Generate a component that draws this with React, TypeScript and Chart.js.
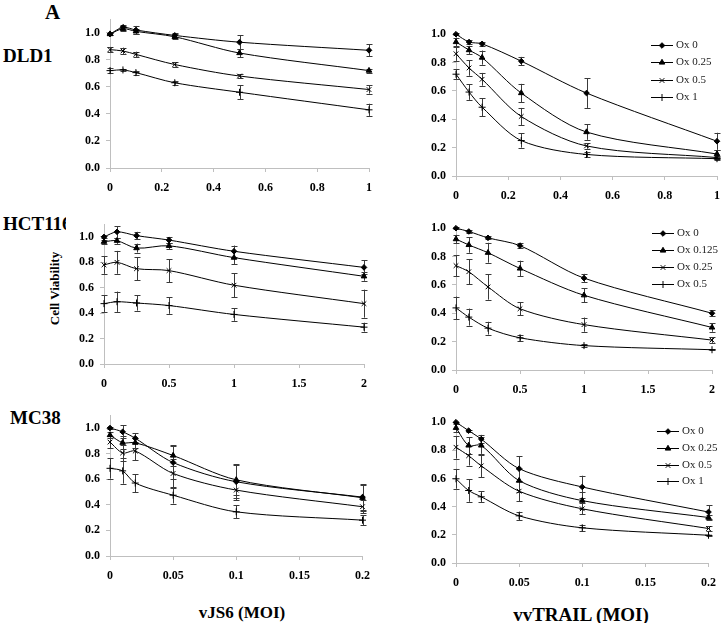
import React, { useEffect, useRef } from 'react';
import { Chart, registerables } from 'chart.js';
import { drawPoint } from 'chart.js/helpers';

Chart.register(...registerables);

// ---------- Data ----------
const labelsA = ['Ox 0', 'Ox 0.25', 'Ox 0.5', 'Ox 1'];
const labelsB = ['Ox 0', 'Ox 0.125', 'Ox 0.25', 'Ox 0.5'];
const yTickValues = [0, 0.2, 0.4, 0.6, 0.8, 1.0];
const xTicks1 = [0, 0.2, 0.4, 0.6, 0.8, 1];
const xTicks2 = [0, 0.5, 1, 1.5, 2];
const xTicks3 = [0, 0.05, 0.1, 0.15, 0.2];

// DLD1 – vJS6
const dldJsX = [0, 0.05, 0.1, 0.25, 0.5, 1];
const dldJsOx0 = [0.99, 1.04, 1.02, 0.98, 0.93, 0.87];
const dldJsOx0Err = [0.01, 0.02, 0.03, 0.02, 0.05, 0.045];
const dldJsOx025 = [0.99, 1.03, 1.01, 0.97, 0.85, 0.72];
const dldJsOx025Err = [0.01, 0.02, 0.02, 0.02, 0.03, 0.015];
const dldJsOx05 = [0.875, 0.865, 0.84, 0.765, 0.68, 0.58];
const dldJsOx05Err = [0.02, 0.025, 0.02, 0.015, 0.015, 0.03];
const dldJsOx1 = [0.72, 0.725, 0.705, 0.63, 0.56, 0.43];
const dldJsOx1Err = [0.02, 0.01, 0.015, 0.015, 0.05, 0.045];

// DLD1 – vvTRAIL
const dldTrX = [0, 0.05, 0.1, 0.25, 0.5, 1];
const dldTrOx0 = [1.0, 0.945, 0.932, 0.81, 0.585, 0.245];
const dldTrOx0Err = [0.005, 0.015, 0.015, 0.03, 0.105, 0.06];
const dldTrOx025 = [0.945, 0.888, 0.835, 0.585, 0.31, 0.155];
const dldTrOx025Err = [0.03, 0.03, 0.05, 0.065, 0.055, 0.03];
const dldTrOx05 = [0.862, 0.762, 0.682, 0.42, 0.212, 0.13];
const dldTrOx05Err = [0.05, 0.055, 0.045, 0.06, 0.02, 0.01];
const dldTrOx1 = [0.718, 0.592, 0.485, 0.25, 0.152, 0.122];
const dldTrOx1Err = [0.035, 0.055, 0.065, 0.05, 0.02, 0.01];

// HCT116 – vJS6
const hctJsX = [0, 0.1, 0.25, 0.5, 1, 2];
const hctJsOx0 = [1.0, 1.04, 1.01, 0.975, 0.887, 0.76];
const hctJsOx0Err = [0.01, 0.045, 0.03, 0.025, 0.045, 0.055];
const hctJsOx0125 = [0.962, 0.97, 0.912, 0.93, 0.837, 0.69];
const hctJsOx0125Err = [0.015, 0.025, 0.035, 0.025, 0.05, 0.035];
const hctJsOx025 = [0.78, 0.8, 0.75, 0.735, 0.62, 0.475];
const hctJsOx025Err = [0.07, 0.09, 0.09, 0.09, 0.095, 0.11];
const hctJsOx05 = [0.475, 0.49, 0.48, 0.46, 0.39, 0.29];
const hctJsOx05Err = [0.065, 0.08, 0.06, 0.065, 0.05, 0.035];

// HCT116 – vvTRAIL
const hctTrX = [0, 0.1, 0.25, 0.5, 1, 2];
const hctTrOx0 = [1.0, 0.977, 0.932, 0.877, 0.648, 0.4];
const hctTrOx0Err = [0.005, 0.01, 0.01, 0.02, 0.03, 0.02];
const hctTrOx0125 = [0.923, 0.882, 0.827, 0.716, 0.527, 0.3];
const hctTrOx0125Err = [0.03, 0.055, 0.07, 0.055, 0.05, 0.03];
const hctTrOx025 = [0.736, 0.693, 0.586, 0.432, 0.32, 0.211];
const hctTrOx025Err = [0.075, 0.09, 0.09, 0.045, 0.05, 0.02];
const hctTrOx05 = [0.438, 0.373, 0.295, 0.227, 0.172, 0.143];
const hctTrOx05Err = [0.08, 0.06, 0.045, 0.02, 0.01, 0.005];

// MC38 – vJS6
const mcJsX = [0, 0.01, 0.02, 0.05, 0.1, 0.2];
const mcJsOx0 = [1.0, 0.97, 0.92, 0.73, 0.58, 0.46];
const mcJsOx0Err = [0.005, 0.05, 0.04, 0.13, 0.13, 0.1];
const mcJsOx025 = [0.945, 0.885, 0.885, 0.785, 0.595, 0.455];
const mcJsOx025Err = [0.02, 0.05, 0.04, 0.08, 0.12, 0.1];
const mcJsOx05 = [0.89, 0.805, 0.82, 0.645, 0.515, 0.385];
const mcJsOx05Err = [0.05, 0.06, 0.07, 0.11, 0.08, 0.05];
const mcJsOx1 = [0.685, 0.665, 0.57, 0.475, 0.345, 0.28];
const mcJsOx1Err = [0.08, 0.1, 0.07, 0.065, 0.05, 0.04];

// MC38 – vvTRAIL
const mcTrX = [0, 0.01, 0.02, 0.05, 0.1, 0.2];
const mcTrOx0 = [1.0, 0.94, 0.88, 0.67, 0.54, 0.362];
const mcTrOx0Err = [0.003, 0.008, 0.03, 0.09, 0.08, 0.05];
const mcTrOx025 = [0.96, 0.835, 0.835, 0.585, 0.443, 0.323];
const mcTrOx025Err = [0.03, 0.06, 0.06, 0.08, 0.06, 0.02];
const mcTrOx05 = [0.822, 0.762, 0.69, 0.51, 0.385, 0.245];
const mcTrOx05Err = [0.08, 0.07, 0.08, 0.07, 0.04, 0.015];
const mcTrOx1 = [0.598, 0.515, 0.47, 0.335, 0.25, 0.197];
const mcTrOx1Err = [0.07, 0.08, 0.04, 0.03, 0.02, 0.005];

// ---------- Styles ----------
const SERIF = '"Liberation Serif", "Times New Roman", serif';
const pointStyles = ['rectRot', 'triangle', 'crossRot', 'cross'];
const pointRadii = [2.8, 3.2, 3.3, 3.5];
const AXIS_GRAY = '#bfbfbf';
const YW = 38; // y-axis box width
const XH = 34; // x-axis box height
const PT = 8;
const PR = 8;

type PanelCfg = {
  id: string;
  x: number[];
  ys: number[][];
  errs: number[][];
  labels: string[];
  yMax: number;
  xMax: number;
  xTicks: number[];
  L: number; R: number; T: number; B: number;
  legend?: { x: number; y: number; gap: number };
};

const panels: PanelCfg[] = [
  {
    id: 'dldJs', x: dldJsX,
    ys: [dldJsOx0, dldJsOx025, dldJsOx05, dldJsOx1],
    errs: [dldJsOx0Err, dldJsOx025Err, dldJsOx05Err, dldJsOx1Err],
    labels: labelsA, yMax: 1.1, xMax: 1, xTicks: xTicks1,
    L: 110, R: 373, T: 14, B: 168,
  },
  {
    id: 'dldTr', x: dldTrX,
    ys: [dldTrOx0, dldTrOx025, dldTrOx05, dldTrOx1],
    errs: [dldTrOx0Err, dldTrOx025Err, dldTrOx05Err, dldTrOx1Err],
    labels: labelsA, yMax: 1.0, xMax: 1, xTicks: xTicks1,
    L: 456, R: 721, T: 29, B: 176,
    legend: { x: 651, y: 45, gap: 17.3 },
  },
  {
    id: 'hctJs', x: hctJsX,
    ys: [hctJsOx0, hctJsOx0125, hctJsOx025, hctJsOx05],
    errs: [hctJsOx0Err, hctJsOx0125Err, hctJsOx025Err, hctJsOx05Err],
    labels: labelsB, yMax: 1.1, xMax: 2, xTicks: xTicks2,
    L: 104, R: 368, T: 219, B: 364,
  },
  {
    id: 'hctTr', x: hctTrX,
    ys: [hctTrOx0, hctTrOx0125, hctTrOx025, hctTrOx05],
    errs: [hctTrOx0Err, hctTrOx0125Err, hctTrOx025Err, hctTrOx05Err],
    labels: labelsB, yMax: 1.0, xMax: 2, xTicks: xTicks2,
    L: 456, R: 716, T: 223, B: 370,
    legend: { x: 652, y: 233, gap: 17 },
  },
  {
    id: 'mcJs', x: mcJsX,
    ys: [mcJsOx0, mcJsOx025, mcJsOx05, mcJsOx1],
    errs: [mcJsOx0Err, mcJsOx025Err, mcJsOx05Err, mcJsOx1Err],
    labels: labelsA, yMax: 1.1, xMax: 0.2, xTicks: xTicks3,
    L: 110, R: 371, T: 410, B: 556,
  },
  {
    id: 'mcTr', x: mcTrX,
    ys: [mcTrOx0, mcTrOx025, mcTrOx05, mcTrOx1],
    errs: [mcTrOx0Err, mcTrOx025Err, mcTrOx05Err, mcTrOx1Err],
    labels: labelsA, yMax: 1.0, xMax: 0.2, xTicks: xTicks3,
    L: 456, R: 717, T: 417, B: 563,
    legend: { x: 657, y: 431, gap: 16.8 },
  },
];

// ---------- Plugins ----------
const errorBarPlugin = {
  id: 'errorBars',
  beforeDatasetsDraw(chart: any) {
    const { ctx, scales } = chart;
    const xs = scales.x;
    const ysc = scales.y;
    ctx.save();
    ctx.strokeStyle = '#3a3a3a';
    ctx.lineWidth = 1;
    chart.data.datasets.forEach((ds: any) => {
      ds.data.forEach((pt: any, i: number) => {
        const e = ds.errors ? ds.errors[i] : 0;
        if (!e) return;
        const px = Math.round(xs.getPixelForValue(pt.x)) + 0.5;
        const y1 = ysc.getPixelForValue(pt.y - e);
        const y2 = ysc.getPixelForValue(pt.y + e);
        ctx.beginPath();
        ctx.moveTo(px, y1);
        ctx.lineTo(px, y2);
        ctx.moveTo(px - 3, Math.round(y1) + 0.5);
        ctx.lineTo(px + 3, Math.round(y1) + 0.5);
        ctx.moveTo(px - 3, Math.round(y2) + 0.5);
        ctx.lineTo(px + 3, Math.round(y2) + 0.5);
        ctx.stroke();
      });
    });
    ctx.restore();
  },
};

const legendPlugin = {
  id: 'oxLegend',
  afterDraw(chart: any, _args: any, opts: any) {
    if (!opts || !opts.show) return;
    const ctx = chart.ctx;
    ctx.save();
    chart.data.datasets.forEach((ds: any, i: number) => {
      const yy = Math.round(opts.y + i * opts.gap) + 0.5;
      const x0 = opts.x;
      ctx.strokeStyle = '#000';
      ctx.fillStyle = '#000';
      ctx.lineWidth = 1;
      ctx.beginPath();
      ctx.moveTo(x0, yy);
      ctx.lineTo(x0 + 22, yy);
      ctx.stroke();
      drawPoint(ctx, { pointStyle: ds.pointStyle, radius: ds.pointRadius, borderWidth: 1, rotation: 0 } as any, x0 + 11, yy);
      ctx.fillStyle = '#222';
      ctx.font = `11px ${SERIF}`;
      ctx.textBaseline = 'middle';
      ctx.textAlign = 'left';
      ctx.fillText(ds.label, x0 + 25, yy);
    });
    ctx.restore();
  },
};

// ---------- Components ----------
function Panel({ cfg }: { cfg: PanelCfg }) {
  const ref = useRef<HTMLCanvasElement>(null);
  const left = cfg.L - YW;
  const top = Math.round(cfg.T - PT);
  const width = cfg.R - cfg.L + YW + PR;
  const height = Math.round(cfg.B - top + XH);

  useEffect(() => {
    const datasets = cfg.ys.map((vals, si) => ({
      label: cfg.labels[si],
      data: cfg.x.map((xv, i) => ({ x: xv, y: vals[i] })),
      errors: cfg.errs[si],
      borderColor: '#000',
      backgroundColor: '#000',
      borderWidth: 1,
      pointStyle: pointStyles[si],
      pointRadius: pointRadii[si],
      pointBorderWidth: 1,
      pointBackgroundColor: '#000',
      pointBorderColor: '#000',
      tension: 0.3,
      clip: false as any,
      fill: false,
    }));
    const chart = new Chart(ref.current as HTMLCanvasElement, {
      type: 'line',
      data: { datasets } as any,
      options: {
        animation: false,
        responsive: false,
        maintainAspectRatio: false,
        layout: { padding: { left: 0, top: PT, right: PR, bottom: 0 } },
        plugins: {
          legend: { display: false },
          tooltip: { enabled: false },
          oxLegend: cfg.legend
            ? { show: true, x: cfg.legend.x - left, y: cfg.legend.y - top, gap: cfg.legend.gap }
            : { show: false },
        } as any,
        scales: {
          x: {
            type: 'linear',
            min: 0,
            max: cfg.xMax,
            afterFit: (s: any) => { s.height = XH; },
            afterBuildTicks: (s: any) => { s.ticks = cfg.xTicks.map((v) => ({ value: v })); },
            grid: { display: true, drawOnChartArea: false, drawTicks: true, tickLength: 4, color: AXIS_GRAY },
            border: { display: true, color: AXIS_GRAY },
            ticks: {
              autoSkip: false,
              maxRotation: 0,
              padding: 9,
              color: '#000',
              font: { family: SERIF, size: 12, weight: 'bold' },
              callback: (v: any) => String(+Number(v).toFixed(3)),
            },
          },
          y: {
            type: 'linear',
            min: 0,
            max: cfg.yMax,
            afterFit: (s: any) => { s.width = YW; },
            afterBuildTicks: (s: any) => { s.ticks = yTickValues.map((v) => ({ value: v })); },
            grid: { display: true, drawOnChartArea: false, drawTicks: true, tickLength: 4, color: AXIS_GRAY },
            border: { display: true, color: AXIS_GRAY },
            ticks: {
              autoSkip: false,
              padding: 6,
              color: '#000',
              font: { family: SERIF, size: 12, weight: 'bold' },
              callback: (v: any) => Number(v).toFixed(1),
            },
          },
        },
      } as any,
      plugins: [errorBarPlugin, legendPlugin],
    });
    return () => chart.destroy();
  }, []);

  return (
    <canvas
      ref={ref}
      width={width}
      height={height}
      style={{ position: 'absolute', left, top, width, height, background: '#fff', zIndex: 1 }}
    />
  );
}

function Label({ text, left, cy, size }: { text: string; left: number; cy: number; size: number }) {
  return (
    <div
      style={{
        position: 'absolute', left, top: cy - size / 2, fontFamily: SERIF, fontWeight: 'bold',
        fontSize: size, lineHeight: `${size}px`, whiteSpace: 'nowrap', color: '#000', zIndex: 0,
      }}
    >
      {text}
    </div>
  );
}

function Centered({ text, cx, cy, size, rotate }: { text: string; cx: number; cy: number; size: number; rotate?: boolean }) {
  const w = 200;
  return (
    <div
      style={{
        position: 'absolute', left: cx - w / 2, top: cy - size / 2, width: w, height: size,
        textAlign: 'center', fontFamily: SERIF, fontWeight: 'bold', fontSize: size,
        lineHeight: `${size}px`, whiteSpace: 'nowrap', color: '#000', zIndex: 2,
        transform: rotate ? 'rotate(-90deg)' : undefined, transformOrigin: '50% 50%',
      }}
    >
      {text}
    </div>
  );
}

export default function App() {
  return (
    <div style={{ position: 'absolute', left: 0, top: 0, width: 727, height: 623, background: '#fff', overflow: 'hidden' }}>
      <Label text="A" left={45} cy={12} size={21} />
      <Label text="DLD1" left={3} cy={55} size={19} />
      <Label text="HCT116" left={3} cy={223} size={19} />
      <Label text="MC38" left={10} cy={417} size={19} />
      <Centered text="Cell Viability" cx={54} cy={288} size={13} rotate />
      <Centered text="vJS6 (MOI)" cx={242} cy={612} size={17} />
      <Centered text="vvTRAIL (MOI)" cx={581} cy={614} size={19} />
      {panels.map((p) => (
        <Panel key={p.id} cfg={p} />
      ))}
    </div>
  );
}
